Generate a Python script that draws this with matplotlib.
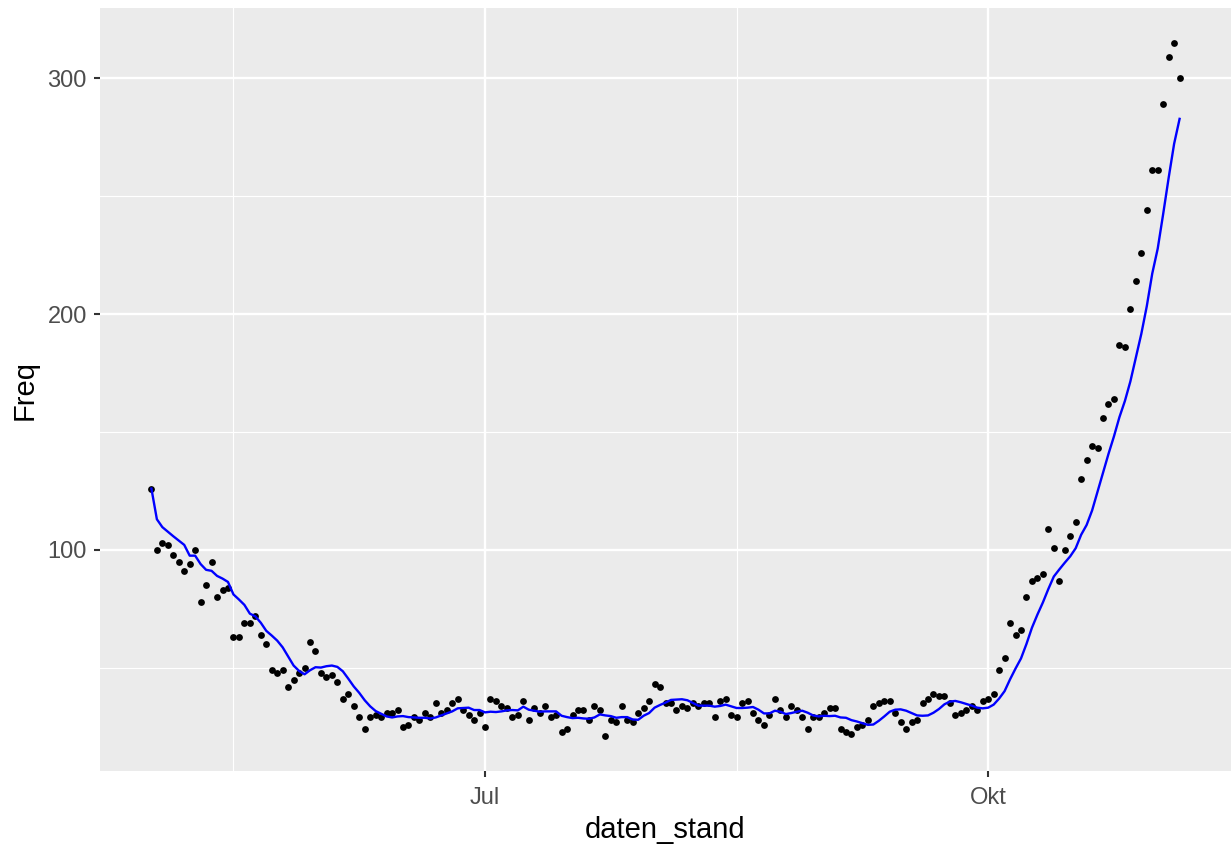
import numpy as np
import pandas as pd
import matplotlib
matplotlib.use("Agg")
import matplotlib.pyplot as plt
import matplotlib.dates as mdates
from matplotlib.ticker import FuncFormatter, FixedLocator

plt.rcParams["font.family"] = ["Liberation Sans", "DejaVu Sans"]

# daily counts, starting 2020-05-01
start_date = "2020-05-01"
freq = [
    126, 100, 103, 102, 98, 95, 91, 94, 100, 78,
    85, 95, 80, 83, 84, 63, 63, 69, 69, 72,
    64, 60, 49, 48, 49, 42, 45, 48, 50, 61,
    57, 48, 46, 47, 44, 37, 39, 34, 29, 24,
    29, 30, 29, 31, 31, 32, 25, 26, 29, 28,
    31, 29, 35, 31, 32, 35, 37, 32, 30, 28,
    31, 25, 37, 36, 34, 33, 29, 30, 36, 28,
    33, 31, 34, 29, 30, 23, 24, 30, 32, 32,
    28, 34, 32, 21, 28, 27, 34, 28, 27, 31,
    33, 36, 43, 42, 35, 35, 32, 34, 33, 35,
    34, 35, 35, 29, 36, 37, 30, 29, 35, 36,
    31, 28, 26, 30, 37, 32, 29, 34, 32, 29,
    24, 29, 29, 31, 33, 33, 24, 23, 22, 25,
    26, 28, 34, 35, 36, 36, 31, 27, 24, 27,
    28, 35, 37, 39, 38, 38, 35, 30, 31, 32,
    34, 32, 36, 37, 39, 49, 54, 69, 64, 66,
    80, 87, 88, 90, 109, 101, 87, 100, 106, 112,
    130, 138, 144, 143, 156, 162, 164, 187, 186, 202,
    214, 226, 244, 261, 261, 289, 309, 315, 300,
]
month_names = {1: "Jan", 4: "Apr", 7: "Jul", 10: "Okt"}

df = pd.DataFrame({
    "daten_stand": pd.date_range(start_date, periods=len(freq), freq="D"),
    "Freq": freq,
})
# trailing 7-day mean
df["avg"] = df["Freq"].rolling(7, min_periods=1).mean()

fig = plt.figure(figsize=(12.31, 8.5), dpi=100)
ax = fig.add_axes([100 / 1231, 1 - 771 / 850, 1131 / 1231, 763 / 850])
ax.set_facecolor("#EBEBEB")
for s in ax.spines.values():
    s.set_visible(False)

x = mdates.date2num(df["daten_stand"])
span = x[-1] - x[0]
ax.set_xlim(x[0] - 0.05 * span, x[-1] + 0.05 * span)
yspan = df["Freq"].max() - df["Freq"].min()
ax.set_ylim(df["Freq"].min() - 0.05 * yspan, df["Freq"].max() + 0.05 * yspan)

majors = [mdates.datestr2num(d) for d in ["2020-07-01", "2020-10-01"]]
minors = [mdates.datestr2num(d) for d in ["2020-05-16", "2020-08-16"]]
ax.xaxis.set_major_locator(FixedLocator(majors))
ax.xaxis.set_minor_locator(FixedLocator(minors))
ax.xaxis.set_major_formatter(FuncFormatter(lambda v, p: month_names[mdates.num2date(v).month]))
ax.yaxis.set_major_locator(FixedLocator([100, 200, 300]))
ax.yaxis.set_minor_locator(FixedLocator([50, 150, 250]))

ax.grid(which="major", color="white", linewidth=1.7)
ax.grid(which="minor", color="white", linewidth=0.85)
ax.set_axisbelow(True)
ax.tick_params(which="major", length=4.5, width=1.5, color="#333333",
               labelsize=17, labelcolor="#4D4D4D", pad=5)
ax.tick_params(axis="x", which="major", pad=7)
ax.tick_params(which="minor", length=0)

ax.scatter(x, df["Freq"], s=24, color="black", zorder=3, linewidths=0)
ax.plot(x, df["avg"], color="blue", linewidth=1.7, zorder=4)

ax.set_xlabel("daten_stand", fontsize=21, labelpad=5)
ax.set_ylabel("Freq", fontsize=21, labelpad=6)

fig.savefig("out.png", dpi=100)
